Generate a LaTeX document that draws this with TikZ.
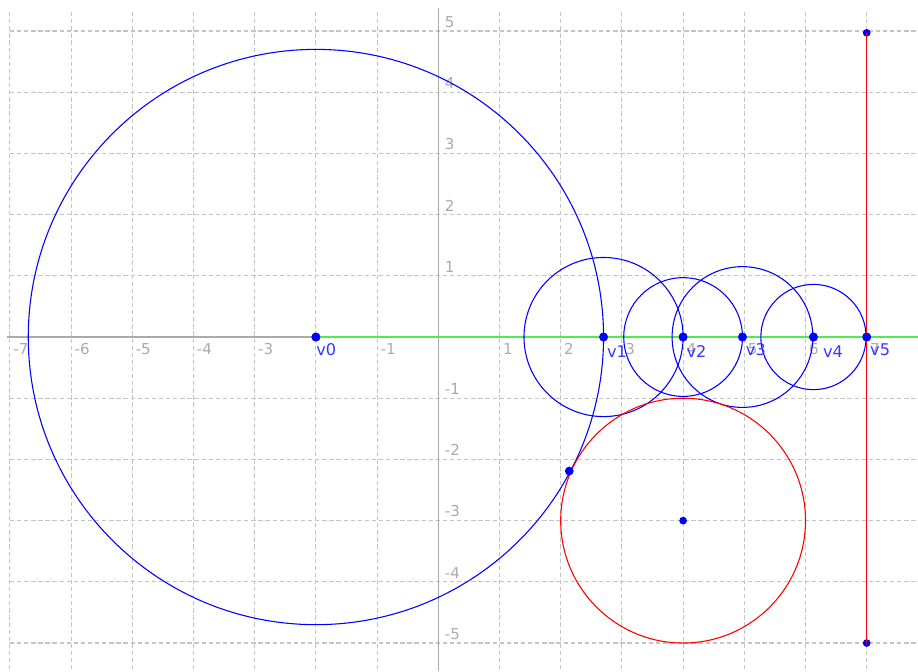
\documentclass[tikz,border=0pt]{standalone}
\usepackage{fontspec}
\setmainfont{DejaVu Sans}
\usetikzlibrary{positioning}
\definecolor{gridgray}{RGB}{196,196,196}
\definecolor{axisgray}{RGB}{170,170,170}
\definecolor{raygreen}{RGB}{80,235,80}
\definecolor{lblblue}{RGB}{55,55,255}

\begin{document}
\begin{tikzpicture}[
    gridline/.style={gridgray,line width=0.5pt,dash pattern=on 2pt off 1.3pt},
    axis/.style={axisgray,line width=0.6pt},
    ticklbl/.style={text=axisgray,font=\fontsize{7}{8}\selectfont,inner sep=0pt},
    dot/.style={circle,fill=blue,inner sep=0pt,minimum size=4.1pt},
    smalldot/.style={circle,fill=blue,inner sep=0pt,minimum size=3.6pt},
    vlbl/.style={text=lblblue,font=\fontsize{7.5}{9}\selectfont,inner sep=0pt,anchor=north west},
    ball/.style={blue,line width=0.5pt},
    wall/.style={red,line width=0.5pt}
]
\useasboundingbox (-7.162,-5.458) rectangle (7.838,5.507);
% grid
\foreach \gx in {-7,...,7} \draw[gridline] (\gx,5.31) -- (\gx,-5.458);
\foreach \gy in {-5,...,5} \draw[gridline] (-7,\gy) -- (7.838,\gy);
% axes
\draw[axis] (-7.05,0) -- (7.838,0);
\draw[axis] (0,5.37) -- (0,-5.458);
\foreach \gx in {-7,...,-3,-1,1,2,...,7}
    \node[ticklbl,anchor=north west] at (\gx+0.05,-0.1) {\gx};
\foreach \gy in {-5,...,-1,1,2,...,5}
    \node[ticklbl,anchor=south west] at (0.1,\gy+0.05) {\gy};
% march points
\node[dot] (v0) at (-2,0) {};
\node[dot] (v1) at (2.70,0) {};
\node[dot] (v2) at (4.00,0) {};
\node[dot] (v3) at (4.97,0) {};
\node[dot] (v4) at (6.13,0) {};
\node[dot] (v5) at (7.00,0) {};
\coordinate (rayend) at (7.838,0);
\draw[raygreen,line width=0.6pt] (v0.center) -- (rayend);
% distance circles
\draw[ball] (v0.center) circle (4.70);
\draw[ball] (v1.center) circle (1.30);
\draw[ball] (v2.center) circle (0.97);
\draw[ball] (v3.center) circle (1.15);
\draw[ball] (v4.center) circle (0.86);
% obstacles
\node[smalldot] (ctr) at (4,-3) {};
\draw[wall] (ctr.center) circle (2);
\node[smalldot] (wtop) at (7,4.97) {};
\node[smalldot] (wbot) at (7,-5) {};
\draw[wall] (wtop.center) -- (wbot.center);
\node[dot] (hit) at (2.14,-2.19) {};
% redraw points on top
\foreach \v in {v0,v1,v2,v3,v4,v5} \node[dot] at (\v) {};
% labels
\node[vlbl] (l0) at ([yshift=-0.1cm]v0.center) {v0};
\node[vlbl] (l1) at ([xshift=0.05cm,yshift=-0.13cm]v1.center) {v1};
\node[vlbl] (l2) at ([xshift=0.05cm,yshift=-0.13cm]v2.center) {v2};
\node[vlbl] (l3) at ([xshift=0.05cm,yshift=-0.1cm]v3.center) {v3};
\node[vlbl] (l4) at ([xshift=0.15cm,yshift=-0.13cm]v4.center) {v4};
\node[vlbl] (l5) at ([xshift=0.05cm,yshift=-0.1cm]v5.center) {v5};
\end{tikzpicture}
\end{document}
